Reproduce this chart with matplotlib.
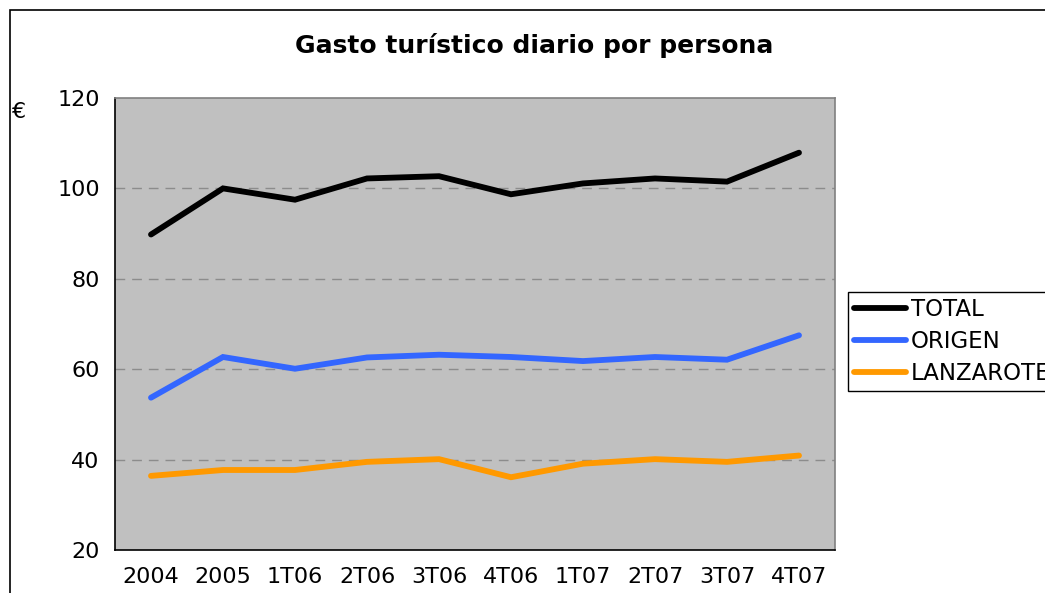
#!/usr/bin/env python3
"""Gasto turistico diario por persona, line chart."""

import matplotlib

matplotlib.use("Agg")
import matplotlib.pyplot as plt
from matplotlib.patches import Rectangle

periods = ["2004", "2005", "1T06", "2T06", "3T06", "4T06", "1T07", "2T07", "3T07", "4T07"]
total = [89.8, 100.0, 97.5, 102.2, 102.7, 98.7, 101.1, 102.2, 101.5, 107.9]
origen = [53.7, 62.7, 60.1, 62.6, 63.2, 62.7, 61.8, 62.7, 62.1, 67.5]
lanzarote = [36.4, 37.7, 37.7, 39.5, 40.1, 36.1, 39.1, 40.1, 39.5, 40.9]

series = [
    ("TOTAL", total, "#000000"),
    ("ORIGEN", origen, "#3366FF"),
    ("LANZAROTE", lanzarote, "#FF9900"),
]

W, H = 1045, 593
fig = plt.figure(figsize=(W / 100, H / 100), dpi=100)
fig.patches.append(
    Rectangle((10 / W, -0.1), 1.2, 1.1 - 10 / H, transform=fig.transFigure,
              fill=False, edgecolor="black", linewidth=1.2)
)

ax = fig.add_axes([115 / W, 1 - 550 / H, 720 / W, 452 / H])
ax.set_facecolor("#C0C0C0")
x = range(len(periods))
for name, values, color in series:
    ax.plot(x, values, color=color, linewidth=4.2, solid_capstyle="round",
            solid_joinstyle="miter", label=name, zorder=3)

ax.set_xlim(-0.5, len(periods) - 0.5)
ax.set_ylim(20, 120)
ax.set_yticks([20, 40, 60, 80, 100, 120])
ax.set_xticks(list(x))
ax.set_xticklabels(periods)
ax.tick_params(length=0, labelsize=16)
ax.tick_params(axis="y", pad=11)
ax.tick_params(axis="x", pad=12)
for yv in [40, 60, 80, 100]:
    ax.axhline(yv, color="#8C8C8C", linewidth=1.0, dashes=(7, 5), zorder=1)
for side in ["top", "right"]:
    ax.spines[side].set_color("#808080")
for side in ["left", "bottom"]:
    ax.spines[side].set_color("black")
for spine in ax.spines.values():
    spine.set_linewidth(1.2)

fig.text(534 / W, 1 - 45 / H, "Gasto turístico diario por persona", ha="center",
         va="center", fontsize=18, fontweight="bold")
fig.text(12 / W, 1 - 112 / H, "€", ha="left", va="center", fontsize=16)

ax.legend(loc="upper left", bbox_to_anchor=(848 / W, 1 - 292 / H),
          bbox_transform=fig.transFigure, fontsize=16.5, frameon=True,
          fancybox=False, edgecolor="black", framealpha=1, borderpad=0.25,
          handlelength=2.3, handletextpad=0.2, labelspacing=0.4,
          borderaxespad=0)

fig.savefig("out.png", dpi=100)
